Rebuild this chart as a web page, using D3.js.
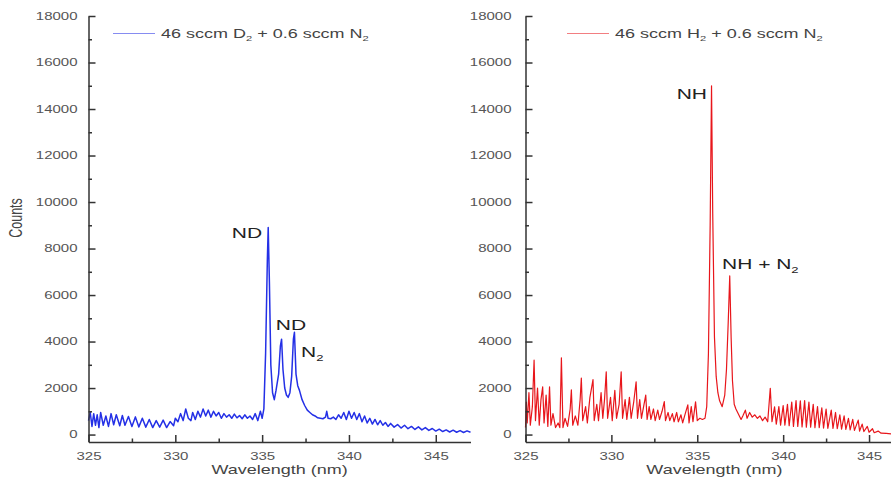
<!DOCTYPE html>
<html><head><meta charset="utf-8">
<script src="https://cdn.jsdelivr.net/npm/d3@7/dist/d3.min.js"></script>
<style>body{margin:0;background:#fff}svg{display:block;font-family:"Liberation Sans",Arial,sans-serif}</style>
</head><body>
<script>
// ---- data ----
const blueWl = [325.0,325.1,325.2,325.3,325.4,325.5,325.6,325.7,325.85,326.0,326.15,326.3,326.45,326.6,326.8,326.95,327.1,327.3,327.5,327.7,327.9,328.1,328.3,328.5,328.7,328.9,329.1,329.3,329.5,329.7,329.9,330.0,330.15,330.3,330.45,330.6,330.75,330.9,331.0,331.15,331.3,331.45,331.6,331.75,331.9,332.05,332.2,332.35,332.5,332.65,332.8,332.95,333.1,333.25,333.4,333.55,333.7,333.85,334.0,334.15,334.3,334.45,334.6,334.75,334.9,335.0,335.1,335.2,335.3,335.35,335.42,335.5,335.6,335.7,335.8,335.95,336.05,336.12,336.2,336.3,336.4,336.5,336.6,336.7,336.8,336.86,336.95,337.05,337.15,337.3,337.45,337.6,337.75,337.9,338.05,338.2,338.35,338.5,338.65,338.72,338.8,338.95,339.1,339.25,339.4,339.55,339.7,339.85,340.0,340.15,340.3,340.45,340.6,340.75,340.9,341.05,341.2,341.35,341.5,341.65,341.8,341.95,342.1,342.25,342.4,342.6,342.8,343.0,343.2,343.4,343.6,343.8,344.0,344.2,344.4,344.6,344.8,345.0,345.2,345.4,345.6,345.8,346.0,346.2,346.4,346.6,346.8,347.0];
const blueCounts = [600,950,350,900,400,850,300,950,400,800,350,900,420,850,380,820,400,780,350,760,330,700,320,650,300,600,320,620,300,560,380,700,550,900,600,1100,700,600,950,650,1000,750,1100,800,1050,750,1000,800,950,700,900,750,850,700,880,720,820,680,850,700,800,650,900,600,1000,700,1100,3500,7500,8900,6500,3000,1800,1500,1900,2600,3800,4100,2800,2000,1700,1600,1800,2500,4100,4400,2600,2100,1900,1500,1250,1050,950,850,800,720,700,680,750,1000,700,680,750,650,850,700,950,650,1000,700,950,650,900,550,800,500,700,450,650,420,600,400,520,350,480,320,430,280,400,250,350,220,330,200,300,180,260,150,230,130,200,110,190,100,170,90,160,100];

const redWl = [325.0,325.05,325.1,325.2,325.28,325.4,325.5,325.58,325.7,325.8,325.9,326.0,326.08,326.2,326.3,326.4,326.48,326.6,326.75,326.9,327.0,327.09,327.18,327.3,327.45,327.6,327.67,327.75,327.9,328.05,328.18,328.25,328.33,328.5,328.6,328.75,328.93,329.0,329.15,329.25,329.4,329.5,329.6,329.7,329.78,329.95,330.05,330.2,330.3,330.45,330.57,330.65,330.8,330.9,331.05,331.15,331.3,331.44,331.52,331.65,331.75,331.9,332.0,332.08,332.2,332.3,332.45,332.55,332.7,332.8,332.95,333.08,333.15,333.3,333.4,333.55,333.65,333.8,333.9,334.05,334.15,334.3,334.45,334.52,334.65,334.75,334.9,335.0,335.15,335.3,335.45,335.55,335.65,335.75,335.83,335.9,336.0,336.1,336.2,336.3,336.45,336.6,336.7,336.8,336.89,336.97,337.05,337.15,337.25,337.35,337.45,337.55,337.65,337.8,337.9,338.05,338.2,338.35,338.5,338.65,338.8,338.95,339.1,339.25,339.35,339.5,339.6,339.75,339.85,340.0,340.1,340.25,340.35,340.5,340.6,340.75,340.85,341.0,341.1,341.25,341.35,341.5,341.6,341.75,341.85,342.0,342.1,342.25,342.35,342.5,342.6,342.8,342.9,343.05,343.15,343.3,343.4,343.55,343.65,343.8,343.9,344.05,344.15,344.37,344.45,344.6,344.7,344.9,345.0,345.2,345.3,345.53,345.7,346.0,346.3,346.6,347.0];
const redCounts = [300,1400,500,1800,400,1200,3200,600,2000,400,1500,2050,500,1700,350,2050,400,900,300,500,300,3300,300,700,350,1100,1920,400,800,400,1500,2430,600,1200,500,1600,2360,600,1300,600,1800,700,1500,2700,700,1600,600,1900,700,1300,2700,700,1500,650,1600,700,1400,2270,700,1500,700,1300,1700,650,1200,650,1100,600,1050,650,1000,1420,600,950,600,900,550,950,550,850,500,900,1280,500,1200,550,1410,600,700,650,700,1200,3500,9000,15000,9500,4200,2500,1800,1450,1200,1700,2800,4800,6820,4200,2300,1300,1100,950,800,650,800,1050,700,950,750,850,700,800,600,750,550,1990,550,1190,450,1200,400,1250,400,1300,380,1400,350,1460,350,1450,330,1460,320,1400,320,1300,300,1200,300,1150,280,1100,270,1050,260,950,250,850,230,800,220,700,200,650,180,620,150,450,130,350,100,250,80,150,60,50,30,20,10];

const yMajor = [0,2000,4000,6000,8000,10000,12000,14000,16000,18000];
const yMinor = [1000,3000,5000,7000,9000,11000,13000,15000,17000];
const xMajor = [325,330,335,340,345];
const xMinor = [327.5,332.5,337.5,342.5];

// ---- drawing ----
const W = 891, H = 484, SX = 1.5;
const svg = d3.select("body").append("svg").attr("width", W).attr("height", H);
const y = d3.scaleLinear().domain([-320, 18000]).range([442, 16]);

function addText(g, x, yy, parts, size, anchor, color) {
  const t = g.append("text")
    .attr("transform", `translate(${x},${yy}) scale(${SX},1)`)
    .attr("text-anchor", anchor).attr("font-size", size).attr("fill", color);
  let shift = 0;
  parts.forEach(p => {
    if (typeof p === "string") {
      const s = t.append("tspan").text(p);
      if (shift) { s.attr("dy", -shift); shift = 0; }
    } else {
      shift = size * 0.28;
      t.append("tspan").attr("font-size", size * 0.62).attr("dy", shift).text(p.sub);
    }
  });
  return t;
}

function panel(cfg) {
  const g = svg.append("g");
  const x = d3.scaleLinear().domain([325, 347]).range([cfg.x0, cfg.x1]);
  const axisColor = "#333";

  g.append("path")
    .datum(cfg.wl.map((w, i) => [w, cfg.counts[i]]))
    .attr("fill", "none").attr("stroke", cfg.color).attr("stroke-width", cfg.sw)
    .attr("stroke-linejoin", "round")
    .attr("d", d3.line().x(d => x(d[0])).y(d => y(d[1])));

  const ya = g.append("g").attr("transform", `translate(${cfg.x0},0)`)
    .call(d3.axisLeft(y).tickValues(yMajor).tickFormat(d3.format("d"))
      .tickSizeInner(-7).tickSizeOuter(0).tickPadding(cfg.ypad));
  const yam = g.append("g").attr("transform", `translate(${cfg.x0},0)`)
    .call(d3.axisLeft(y).tickValues(yMinor).tickFormat("").tickSizeInner(-3.5).tickSizeOuter(0));
  yam.select(".domain").remove();
  yam.selectAll("text").remove();

  const xa = g.append("g").attr("transform", "translate(0,442)")
    .call(d3.axisBottom(x).tickValues(xMajor).tickFormat(d3.format("d"))
      .tickSizeInner(-7).tickSizeOuter(0).tickPadding(11));
  const xam = g.append("g").attr("transform", "translate(0,442)")
    .call(d3.axisBottom(x).tickValues(xMinor).tickFormat("").tickSizeInner(-3.5).tickSizeOuter(0));
  xam.select(".domain").remove();
  xam.selectAll("text").remove();

  [ya, yam, xa, xam].forEach(a => {
    a.selectAll("path,line").attr("stroke", axisColor).attr("stroke-width", 1.5);
    a.selectAll("text").attr("font-size", 10).attr("fill", "#555")
      .attr("font-family", '"Liberation Sans",Arial,sans-serif');
  });
  ya.selectAll("text").attr("x", -cfg.ypad / SX).attr("transform", `scale(${SX},1)`);
  xa.selectAll("text").attr("transform", `scale(${SX},1)`);

  addText(g, (cfg.x0 + cfg.x1) / 2, 474, ["Wavelength (nm)"], 12, "middle", "#444");

  g.append("line").attr("x1", cfg.lx).attr("x2", cfg.lx + 42).attr("y1", 33.5).attr("y2", 33.5)
    .attr("stroke", cfg.color).attr("stroke-width", 1.2).attr("opacity", 0.55);
  addText(g, cfg.lx + 48, 37.5, cfg.legend, 12, "start", "#444");

  cfg.notes.forEach(n => addText(g, n.x, n.y, n.parts, 14, n.anchor, "#222"));
  return g;
}

panel({
  x0: 88.5, x1: 470.5, ypad: 11, sw: 1.5, wl: blueWl, counts: blueCounts, color: "#2430e6", lx: 113,
  legend: ["46 sccm D", {sub: "2"}, " + 0.6 sccm N", {sub: "2"}],
  notes: [
    {x: 247, y: 238, parts: ["ND"], anchor: "middle"},
    {x: 291, y: 330, parts: ["ND"], anchor: "middle"},
    {x: 301, y: 357, parts: ["N", {sub: "2"}], anchor: "start"}
  ]
});
panel({
  x0: 525.5, x1: 903.4, ypad: 14, sw: 1.2, wl: redWl, counts: redCounts, color: "#e8161b", lx: 567,
  legend: ["46 sccm H", {sub: "2"}, " + 0.6 sccm N", {sub: "2"}],
  notes: [
    {x: 707, y: 99, parts: ["NH"], anchor: "end"},
    {x: 722, y: 269, parts: ["NH + N", {sub: "2"}], anchor: "start"}
  ]
});

svg.append("text")
  .attr("transform", `translate(22,218) scale(${SX},1) rotate(-90)`)
  .attr("text-anchor", "middle").attr("font-size", 12.5).attr("fill", "#444")
  .text("Counts");
</script>
</body></html>
